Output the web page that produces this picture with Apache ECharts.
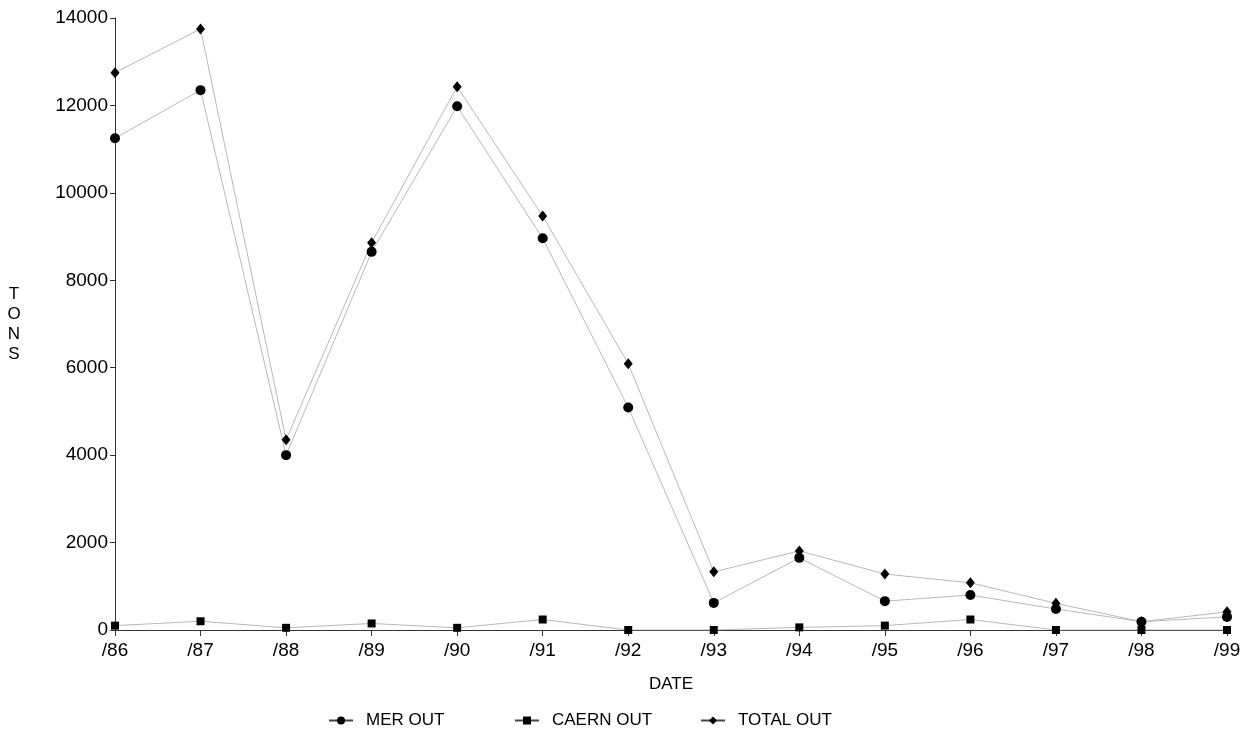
<!DOCTYPE html>
<html>
<head>
<meta charset="utf-8">
<script src="https://cdn.jsdelivr.net/npm/echarts@6/dist/echarts.min.js"></script>
<style>
  html, body { margin: 0; padding: 0; background: #fff; }
  #chart { width: 1253px; height: 740px; }
</style>
</head>
<body>
<div id="chart"></div>
<script>
// values
const dates = ['/86', '/87', '/88', '/89', '/90', '/91', '/92', '/93', '/94', '/95', '/96', '/97', '/98', '/99']
const merOut = [11250, 12350, 4000, 8650, 11980, 8960, 5090, 620, 1650, 660, 800, 480, 190, 300]
const caernOut = [100, 200, 50, 150, 50, 240, 0, 0, 60, 100, 240, 0, 0, 0]
const totalOut = [12750, 13750, 4350, 8860, 12430, 9470, 6090, 1330, 1810, 1280, 1080, 610, 190, 415]
const seriesNames = ['MER OUT', 'CAERN OUT', 'TOTAL OUT']

const font = 'Liberation Sans, Arial, sans-serif'
const lineGrey = '#b8b8b8'

const chart = echarts.init(document.getElementById('chart'))

function makeSeries(name, data, symbol, size) {
  return {
    name: name,
    type: 'line',
    data: data,
    symbol: symbol,
    symbolSize: size,
    showAllSymbol: true,
    animation: false,
    lineStyle: { color: lineGrey, width: 1 },
    itemStyle: { color: '#000' }
  }
}

// one legend per entry so the entries sit at fixed places
const legendLeft = [323, 509, 695]
const legends = seriesNames.map((name, i) => ({
  left: legendLeft[i],
  top: 707,
  itemWidth: 24,
  itemHeight: 10,
  lineStyle: { color: '#444', width: 2 },
  textStyle: { fontSize: 17, color: '#000', padding: [0, 0, 0, 8] },
  data: [name]
}))

chart.setOption({
  animation: false,
  textStyle: { fontFamily: font },
  grid: { left: 115, right: 26, top: 18, bottom: 110 },
  legend: legends,
  xAxis: {
    type: 'category',
    data: dates,
    boundaryGap: false,
    name: 'DATE',
    nameLocation: 'middle',
    nameGap: 46,
    nameTextStyle: { fontSize: 17, color: '#000' },
    axisLine: { lineStyle: { color: '#333', width: 1 } },
    axisTick: { alignWithLabel: true, length: 6, lineStyle: { color: '#333' } },
    axisLabel: { fontSize: 19, color: '#000', margin: 11 }
  },
  yAxis: {
    type: 'value',
    min: 0,
    max: 14000,
    interval: 2000,
    name: 'T\nO\nN\nS',
    nameLocation: 'middle',
    nameRotate: 0,
    nameGap: 101,
    nameTextStyle: { fontSize: 17, color: '#000', align: 'center', lineHeight: 20 },
    splitLine: { show: false },
    axisLine: { show: true, lineStyle: { color: '#333', width: 1 } },
    axisTick: { show: true, length: 5, lineStyle: { color: '#333' } },
    axisLabel: { fontSize: 19, color: '#000', margin: 7, formatter: v => String(v) }
  },
  series: [
    makeSeries(seriesNames[0], merOut, 'circle', 10),
    makeSeries(seriesNames[1], caernOut, 'rect', 8),
    makeSeries(seriesNames[2], totalOut, 'diamond', [9, 11])
  ]
})
</script>
</body>
</html>
